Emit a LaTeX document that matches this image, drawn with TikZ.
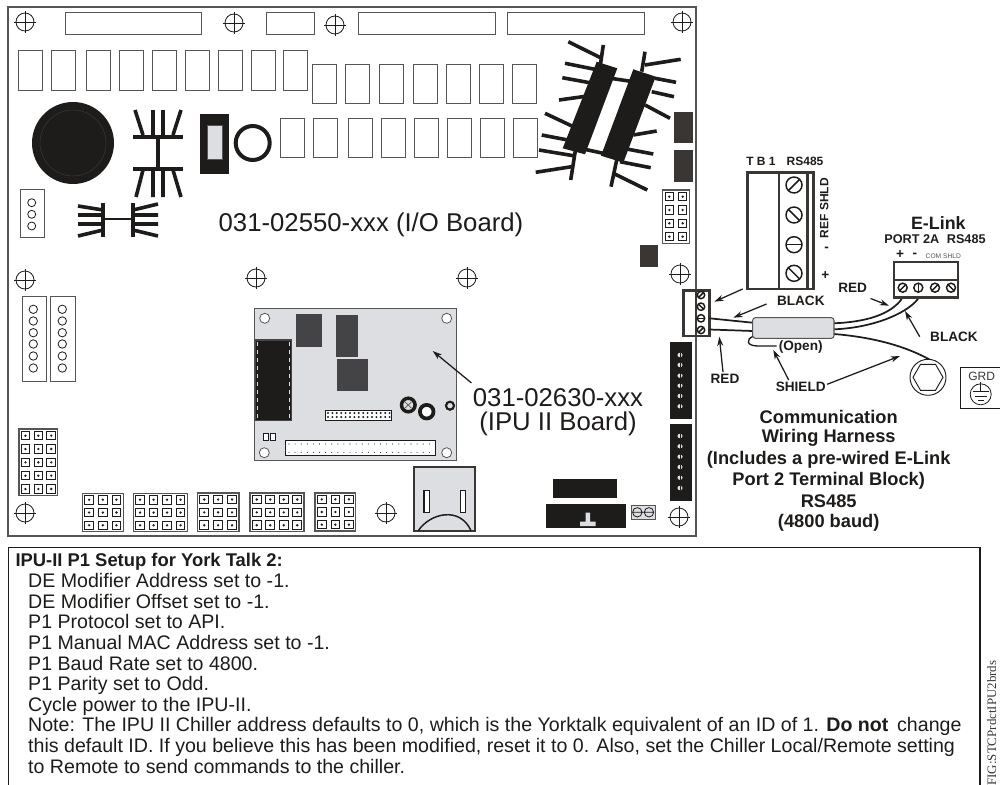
\documentclass[tikz,border=0pt]{standalone}
\usepackage{fontspec}
\usetikzlibrary{arrows.meta}
\setmainfont{Liberation Sans}
\newfontfamily\figfont{Liberation Serif}
\definecolor{inkdark}{RGB}{30,28,26}
\definecolor{blockdark}{RGB}{58,54,51}
\definecolor{chipdark}{RGB}{68,68,70}
\definecolor{boardgray}{RGB}{221,222,225}
\definecolor{framegray}{RGB}{85,85,85}
\tikzset{every picture/.style={line width=0.75pt}}
\tikzset{
	relaybox/.style={draw=framegray,line width=0.75pt,fill=white},
	finline/.style={draw=inkdark,line width=2.7pt},
	pinframe/.style={draw=framegray,line width=0.8pt,fill=white},
	pinsquare/.style={draw=inkdark,line width=0.75pt,fill=white},
	termline/.style={draw=blockdark,line width=1.9pt},
	wireline/.style={draw=inkdark,line width=1.3pt},
	callout/.style={draw=inkdark,line width=0.95pt,-{Stealth[length=7pt,width=4.5pt]}},
	boardtext/.style={text=inkdark,font=\fontsize{19.3}{22}\selectfont},
	wiretext/.style={text=inkdark,inner sep=0pt,font=\bfseries\fontsize{10.2}{12}\selectfont},
	headtext/.style={text=inkdark,inner sep=0pt,font=\bfseries\fontsize{9}{11}\selectfont},
	captext/.style={text=inkdark,inner sep=0pt,font=\bfseries\fontsize{13.7}{16}\selectfont},
	notetext/.style={text=inkdark,inner sep=0pt,anchor=base west,font=\fontsize{14.7}{17}\selectfont}
}
\newcommand{\regmark}[2]{%
	\draw[inkdark,line width=0.6pt] (#1,#2) circle (9);
	\draw[inkdark,line width=0.6pt] (#1-11,#2) -- (#1+11,#2) (#1,#2-11) -- (#1,#2+11);
}
\newcommand{\pinblock}[6]{%
	\draw[pinframe] (#1,#2) rectangle (#3,#4);
	\pgfmathsetmacro{\pdx}{(#3-#1)/#5}
	\pgfmathsetmacro{\pdy}{(#4-#2)/#6}
	\foreach \c in {1,...,#5}{
		\foreach \r in {1,...,#6}{
			\pgfmathsetmacro{\px}{#1+(\c-0.5)*\pdx}
			\pgfmathsetmacro{\py}{#2+(\r-0.5)*\pdy}
			\draw[pinsquare] (\px-4.3,\py-4.3) rectangle (\px+4.3,\py+4.3);
			\fill[inkdark] (\px,\py) circle (1.3);
		}
	}
}
\newcommand{\screw}[4]{%
	\draw[inkdark,line width=1.1pt,fill=white] (#1,#2) circle (#3);
	\draw[inkdark,line width=1.1pt] (#1,#2) ++(#4:#3) -- ++(#4+180:2*#3);
}

\begin{document}
\begin{tikzpicture}[x=0.75pt,y=0.75pt,yscale=-1,xscale=1]
	\useasboundingbox (0,0) rectangle (1000,785);

	%Shape: Board outline
	\draw [framegray,line width=1.2pt] (8,7) rectangle (696,536);
	%Top connectors
	\foreach \xa/\xb in {65/201,266/314,358/495,507.5/644}{
		\draw [relaybox] (\xa,12.5) rectangle (\xb,34);
	}
	%Registration marks
	\foreach \mx/\my in {25/22,234/23,335/25,682/22,25/280,256/278,467/278,680/274,25/513,386/513,679/517}{
		\regmark{\mx}{\my}
	}
	%Relays, three rows
	\foreach \rx in {18.3,51.7,86,119,152.7,185,218.7,251.7,283}{
		\draw [relaybox] (\rx,50.7) rectangle ++(24,39.3);
	}
	\foreach \rx in {312,345,379,413,446,479,512}{
		\draw [relaybox] (\rx,64) rectangle ++(24,39);
	}
	\foreach \rx in {280,313,348,381,414,447,480,513}{
		\draw [relaybox] (\rx,118) rectangle ++(24,39);
	}

	%Big capacitor
	\fill [inkdark] (73,143) circle (41);
	\draw [blockdark,line width=0.4pt] (73,143) circle (33);

	%Heat sink, upright
	\draw [finline] (133,137) -- (183,137) (133,169) -- (183,169) (158,137) -- (158,169);
	\draw [finline] (143,135) -- (135,110) (153,135) -- (153,110) (163,135) -- (163,110) (173,135) -- (181,110);
	\draw [finline] (143,170) -- (136,197) (153,170) -- (153,197) (163,170) -- (163,197) (173,170) -- (181,197);
	%Heat sink, lying
	\draw [finline] (103,203) -- (103,237) (133,203) -- (133,237);
	\draw [finline,line width=1.8pt] (103,219) -- (133,219);
	\draw [finline] (78,206) -- (103,210) (78,215) -- (103,215) (78,224) -- (103,224) (78,236) -- (103,230);
	\draw [finline] (133,210) -- (158,204) (133,215) -- (158,215) (133,224) -- (158,224) (133,230) -- (158,236);

	%Chip and ring
	\fill [inkdark] (200,114.3) rectangle (229.3,173.7);
	\draw [framegray,line width=0.5pt,fill=boardgray] (207,125) rectangle (222,159);
	\draw [inkdark,line width=3pt] (252.7,143) circle (17);

	%Three pin header
	\draw [relaybox] (20,189.3) rectangle (44.7,237.3);
	\foreach \py in {202.7,214.3,226}{
		\draw [inkdark,line width=0.6pt] (31.7,\py) circle (4);
	}

	%Transformer blocks
	\fill [inkdark] (596.7,61.7) -- (617.3,68.3) -- (585,154.3) -- (562.7,148.3) -- cycle;
	\fill [inkdark] (633.3,69.3) -- (655.7,76.7) -- (623.3,162.7) -- (601,155.7) -- cycle;
	\foreach \xa/\ya/\xb/\yb in {603.3/45/594/108.3,568.3/41.7/601.7/58.3,565/63.3/598.3/70,562.3/77.7/596.7/84,559/100/595/95,645/51.7/641.7/71.7,680.7/59.3/645/65,655/78.3/676/82.3,651.7/91.7/674/96.7,645/105/670/118.3,580.7/116.7/570.7/180,545/113.3/576.7/128.3,541.7/135/576.7/141.7,539/150/573.3/155.7,535.7/172.3/571.7/166.7,616.7/160/611/186.7,633.3/135/656.7/131,626.7/149/653.3/154,620/161.7/650.7/167.7,613.3/173.3/647.3/190,600/76.7/633.3/81.7,580/148.3/603.3/153.3}{
		\draw [finline] (\xa,\ya) -- (\xb,\yb);
	}

	%Dark blocks at right edge
	\fill [blockdark] (674.3,112) rectangle (692.7,143.3);
	\fill [blockdark] (674.3,150) rectangle (692.7,181.7);
	\fill [blockdark] (640,245.3) rectangle (658.3,266.7);

	%Jumper blocks
	\pinblock{662.7}{190}{689.3}{243.3}{2}{4}
	\pinblock{19}{429}{57.7}{495.7}{3}{5}
	\pinblock{82.3}{493.3}{123.3}{531.7}{3}{3}
	\pinblock{133.3}{493.3}{187.3}{531.7}{4}{3}
	\pinblock{197.3}{493}{239}{531.7}{3}{3}
	\pinblock{250}{493}{304}{531.7}{4}{3}
	\pinblock{315}{493}{355.7}{531}{3}{3}

	%Six pin headers
	\draw [relaybox] (22,296) rectangle (46.7,381.3);
	\draw [relaybox] (50.7,296) rectangle (75.3,381.3);
	\foreach \py in {309.3,321,332.7,344,356,368}{
		\draw [inkdark,line width=0.6pt] (33.3,\py) circle (4.2);
		\draw [inkdark,line width=0.6pt] (62.3,\py) circle (4.2);
	}

	%IPU board
	\draw [framegray,line width=0.8pt,fill=boardgray] (254.3,308.3) rectangle (456.7,460.3);
	\foreach \hx/\hy in {264.7/318.3,446.7/318.3,264.3/452.7,446.7/452.7}{
		\draw [framegray,line width=0.6pt,fill=white] (\hx,\hy) circle (5);
	}
	\fill [chipdark] (296,314.3) rectangle (322,347.3);
	\fill [chipdark] (336,315) rectangle (358.3,356.7);
	\fill [chipdark] (337,359.3) rectangle (368.3,391);
	\draw [chipdark,line width=1pt,fill=inkdark] (255.7,340) rectangle (291.7,420.7);
	\draw [boardgray,dashed,line width=0.4pt] (257.5,342) -- (257.5,419) (289.7,342) -- (289.7,419);
	%Small header on IPU
	\draw [inkdark,fill=white] (325,410) rectangle (391.7,420);
	\foreach \hx in {0,...,14}{
		\fill [inkdark] (328+4.4*\hx,413) circle (1.1);
		\fill [inkdark] (328+4.4*\hx,417) circle (1.1);
	}
	%Long header on IPU
	\draw [inkdark,fill=white] (285.3,440) rectangle (435.7,455.7);
	\foreach \hx in {0,...,23}{
		\fill [inkdark] (289+6.1*\hx,444) circle (0.55);
		\fill [inkdark] (289+6.1*\hx,452.3) circle (0.55);
	}
	%Small parts on IPU
	\draw [inkdark,fill=white] (263.3,433.5) rectangle (268.5,440) (270.5,433.5) rectangle (275.7,440);
	\draw [inkdark,line width=2.6pt,fill=boardgray] (408.3,405) circle (6.8);
	\draw [framegray,line width=0.5pt] (405,402) -- (411.5,408) (405,408) -- (411.5,402);
	\draw [inkdark,line width=2.8pt,fill=white] (426.7,411.7) circle (6.8);
	\draw [inkdark,line width=1.6pt,fill=boardgray] (450,405.7) circle (4);

	%Battery holder
	\draw [blockdark,line width=1.5pt,fill=boardgray] (414,467.3) rectangle (475,530.7);
	\draw [inkdark,line width=1.1pt,fill=white] (424,490.7) rectangle (429.3,512.7) (460.3,490.7) rectangle (465.7,512.7);
	\draw [inkdark,line width=1.1pt] (418.3,530.7) .. controls (430,513) and (460,506) .. (471,530.7);

	%Black connectors bottom
	\fill [inkdark] (553.3,479.3) rectangle (616.7,498);
	\fill [inkdark] (546.3,504.3) rectangle (626,528.3);
	\fill [boardgray] (585.7,512.7) rectangle (590,521.7) (580,521.7) rectangle (595.7,526);
	\draw [framegray,line width=0.8pt,fill=boardgray] (631.7,505.7) rectangle (655.7,519.3);
	\draw [inkdark,line width=0.6pt] (637.3,512.3) circle (4.7) (649,512.3) circle (4.7) (632.6,512.3) -- (653.7,512.3);

	%Black connectors right
	\fill [inkdark] (669.7,342) rectangle (692,419);
	\fill [inkdark] (669.7,424) rectangle (692,500.7);
	\foreach \py in {355,365,375.7,385.7,396,406.3,436,446.3,456.7,467,477.7,488}{
		\fill [boardgray] (680,\py) ellipse (2.6 and 2.2);
		\fill [inkdark] (679.7,\py-2.4) rectangle (680.3,\py+2.4);
	}

	%Board text
	\node [boardtext] (ioboard) at (371,225) {031-02550-xxx (I/O Board)};
	\node [boardtext,inner sep=0pt] (ipunum) at (558,397.5) {031-02630-xxx};
	\node [boardtext,inner sep=0pt] (ipuname) at (558,424) {(IPU II Board)};
	\coordinate (iputip) at (432.7,351);
	\draw [callout] (ipunum.north west) ++(-1,-5) -- (iputip);

	%TB1 terminal block
	\draw [termline,fill=white] (747.7,172.7) rectangle (813.3,289);
	\draw [termline] (779,172.7) -- (779,289) (807.7,172.7) -- (807.7,289);
	\screw{794}{185}{8}{-45}
	\screw{794}{215}{8}{45}
	\screw{794}{244.7}{8}{0}
	\screw{794}{273.3}{8}{45}
	\node [headtext] (tbone) at (761,161) {T B 1};
	\node [headtext] (tbbus) at (805,161) {RS485};
	\node [headtext,rotate=90] (tbref) at (824.3,208) {REF SHLD};
	\node [wiretext] (tbminus) at (826.7,249) {-};
	\node [wiretext] (tbplus) at (825.3,275.7) {+};

	%Board side connector
	\draw [termline,fill=white] (683.3,290.7) rectangle (709.3,336);
	\draw [termline] (696,290.7) -- (696,336);
	\screw{701}{295}{3.7}{-45}
	\screw{701}{306.7}{3.7}{45}
	\screw{701}{318.3}{3.7}{0}
	\screw{701}{330}{3.7}{-45}

	%Harness wires
	\draw [wireline] (709.3,318.3) -- (752.7,322.7);
	\draw [wireline] (709.3,329.5) -- (752.7,331);
	\draw [wireline] (834,323.3) .. controls (865,322) and (890,315) .. (901.7,299);
	\draw [wireline] (834,329.3) .. controls (870,328) and (905,315) .. (918,299);
	\draw [wireline] (834,334) .. controls (870,337) and (905,345) .. (933.3,361.7);
	\draw [wireline,line width=1pt] (753.5,336) .. controls (745,340) and (747,346) .. (758,346) -- (776.7,346);
	\draw [draw=framegray,line width=0.8pt,rounded corners=2pt,fill=boardgray] (752.7,317.7) rectangle (834,338.3);

	%E-Link block
	\draw [termline,fill=white] (894,262) rectangle (958,297.3);
	\draw [termline] (894,280) -- (958,280);
	\screw{902.7}{287.7}{4.5}{-45}
	\screw{918.3}{287.7}{4.5}{90}
	\screw{935}{287.7}{4.5}{-45}
	\screw{951}{287.7}{4.5}{45}
	\node [text=inkdark,inner sep=0pt,font=\bfseries\fontsize{13.4}{16}\selectfont] (elink) at (938.3,223.3) {E-Link};
	\node [wiretext,font=\bfseries\fontsize{9.5}{11}\selectfont] (elport) at (935,239.3) {PORT 2A\hspace{0.6em}RS485};
	\node [wiretext] (elplus) at (900,255) {+};
	\node [wiretext] (elminus) at (915,255) {-};
	\node [text=framegray,inner sep=0pt,font=\fontsize{5}{6}\selectfont] (elcom) at (943.3,256) {COM SHLD};

	%Ground bolt
	\draw [inkdark,line width=0.7pt,fill=white] (928,377.3) circle (18);
	\draw [inkdark,line width=0.7pt] plot[samples at={0,60,...,300}] ({928+15*cos(\x)},{377.3+15*sin(\x)}) -- cycle;

	%GRD box
	\draw [inkdark,line width=0.7pt] (1001,367.7) -- (960.7,367.7) -- (960.7,408.3) -- (1001,408.3);
	\node [text=blockdark,inner sep=0pt,font=\fontsize{9}{11}\selectfont] (grdtext) at (981.7,376.7) {GRD};
	\draw [inkdark,line width=0.6pt] (980.7,394.3) circle (10.5);
	\draw [inkdark,line width=0.6pt] (980.7,382) -- (980.7,391.7) (972.7,391.7) -- (988.7,391.7) (974.7,396) -- (986.7,396) (977.7,400) -- (983.7,400);

	%Wire labels
	\node [wiretext] (blackone) at (800.8,301) {BLACK};
	\node [wiretext] (redone) at (852.7,288.3) {RED};
	\node [wiretext] (blacktwo) at (954,336.7) {BLACK};
	\node [wiretext] (redtwo) at (725,379.3) {RED};
	\node [wiretext] (opentext) at (800.7,347.3) {(Open)};
	\node [wiretext] (shieldtext) at (800.7,387.3) {SHIELD};

	%Callout arrows
	\coordinate (tbtail) at (742.7,289);
	\coordinate (tbtip) at (714.3,301.7);
	\coordinate (blacktip) at (733.3,317.7);
	\coordinate (redtip) at (889,305.7);
	\coordinate (elblacktip) at (905,311);
	\coordinate (wiretip) at (719.3,336.7);
	\coordinate (looptip) at (773.3,350);
	\coordinate (gndtip) at (900,356);
	\draw [callout] (tbtail) -- (tbtip);
	\draw [callout] (blackone.west) ++(-10,3) -- (blacktip);
	\draw [callout] (redone.south east) ++(3,5) -- (redtip);
	\draw [callout] (blacktwo.west) ++(-10,0) -- (elblacktip);
	\draw [callout] (redtwo.north) ++(-2,-2) -- (wiretip);
	\draw [callout] (shieldtext.north) ++(-12,-2) -- (looptip);
	\draw [callout] (shieldtext.east) ++(1,-3) -- (gndtip);

	%Harness caption
	\node [captext] (capa) at (828.7,416.7) {Communication};
	\node [captext] (capb) at (828.7,437.7) {Wiring Harness};
	\node [captext] (capc) at (828.7,460) {(Includes a pre-wired E-Link};
	\node [captext] (capd) at (828.7,481) {Port 2 Terminal Block)};
	\node [captext] (cape) at (828.7,501.7) {RS485};
	\node [captext] (capf) at (828.7,522.7) {(4800 baud)};

	%Setup note, open at the bottom
	\draw [inkdark,line width=0.9pt] (8.3,786) -- (8.3,547.3) -- (980,547.3) -- (980,786);
	\node [notetext,font=\bfseries\fontsize{13.8}{16}\selectfont] (notehead) at (15,566.7) {IPU-II P1 Setup for York Talk 2:};
	\node [notetext] (notea) at (27.7,587.4) {DE Modifier Address set to -1.};
	\node [notetext] (noteb) at (27.7,608) {DE Modifier Offset set to -1.};
	\node [notetext] (notec) at (27.7,628.7) {P1 Protocol set to API.};
	\node [notetext] (noted) at (27.7,649.3) {P1 Manual MAC Address set to -1.};
	\node [notetext] (notee) at (27.7,670) {P1 Baud Rate set to 4800.};
	\node [notetext] (notef) at (27.7,690.6) {P1 Parity set to Odd.};
	\node [notetext] (noteg) at (27.7,711.3) {Cycle power to the IPU-II.};
	\node [notetext] (noteh) at (27.7,731.9) {Note: The IPU II Chiller address defaults to 0, which is the Yorktalk equivalent of an ID of 1. \textbf{Do not}\, change};
	\node [notetext] (notei) at (27.7,752.6) {this default ID. If you believe this has been modified, reset it to 0. Also, set the Chiller Local/Remote setting};
	\node [notetext] (notej) at (27.7,773.2) {to Remote to send commands to the chiller.};

	%Figure tag
	\node [text=blockdark,inner sep=0pt,anchor=east,rotate=90,font=\figfont\fontsize{9.7}{11}\selectfont] (figtag) at (991.7,660) {FIG:STCPrdctIPU2brds};
\end{tikzpicture}
\end{document}
